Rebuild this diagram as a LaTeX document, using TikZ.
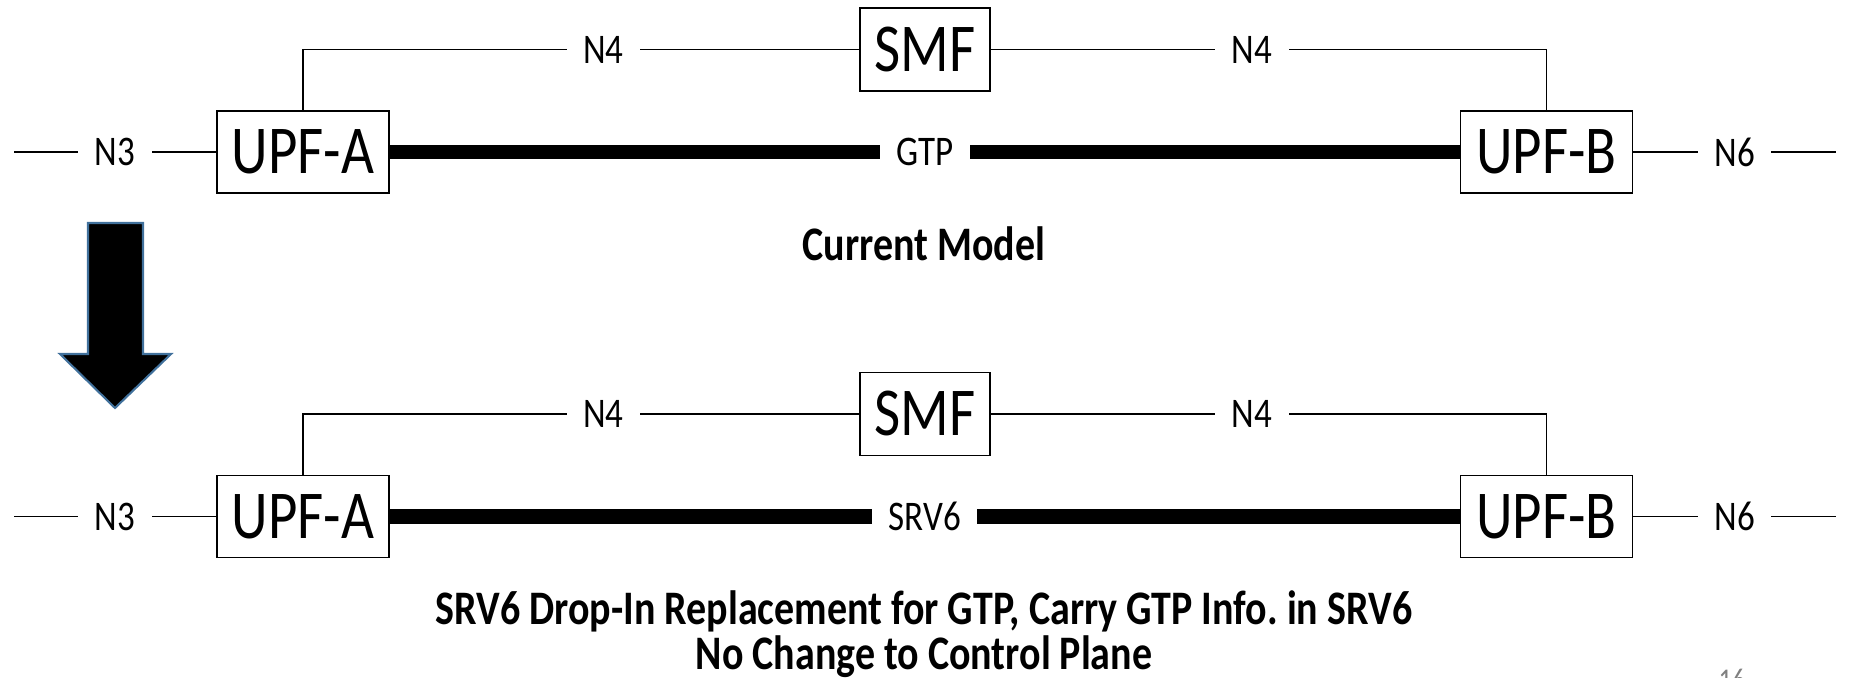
\documentclass[tikz,border=0pt]{standalone}
\usepackage{fontspec}
\setmainfont{Carlito}[FakeStretch=0.83]
\definecolor{arrowedge}{RGB}{65,113,156}
\definecolor{pagenum}{RGB}{128,128,128}

\begin{document}
\begin{tikzpicture}[x=0.1mm, y=0.1mm, line width=0.45pt,
		box/.style={draw, line width=0.5pt, minimum width=17.2mm, minimum height=8.2mm, inner sep=0pt, font=\fontsize{19.5}{22}\selectfont},
		smfbox/.style={box, minimum width=13mm, minimum height=8.3mm},
		lbl/.style={fill=white, inner xsep=4.7pt, inner ysep=1pt, font=\fontsize{12}{14}\selectfont},
		pipe/.style={line width=4pt},
		title/.style={font=\fontsize{13.7}{14}\selectfont\bfseries, anchor=base}]
		\clip (0,0) rectangle (1849,678);
		
		% current model
		\node[box] (upfa1) at (303,526) {UPF-A};
		\node[box] (upfb1) at (1546.5,526) {UPF-B};
		\node[smfbox] (smf1) at (925,628.5) {SMF};
		\coordinate (n3a1) at (14,526);
		\coordinate (n6b1) at (1836,526);
		
		\draw (n3a1) to node[lbl] {N3} (upfa1);
		\draw (upfb1) to node[lbl] {N6} (n6b1);
		\draw (upfa1.north) |- node[lbl, pos=0.77] {N4} (smf1.west);
		\draw (smf1.east) -| node[lbl, pos=0.235] {N4} (upfb1.north);
		\draw[pipe] (upfa1) to node[lbl] {GTP} (upfb1);
		
		\node[title] (cur) at (924,417) {Current Model};
		
		% arrow between the two models
		\filldraw[fill=black, draw=arrowedge, line width=0.6pt] (88,455) -- (143,455) -- (143,324) -- (171,324) -- (115,270) -- (60,324) -- (88,324) -- cycle;
		
		% srv6 model
		\node[box] (upfa2) at (303,161.5) {UPF-A};
		\node[box] (upfb2) at (1546.5,161.5) {UPF-B};
		\node[smfbox] (smf2) at (925,264) {SMF};
		\coordinate (n3a2) at (14,161.5);
		\coordinate (n6b2) at (1836,161.5);
		
		\draw (n3a2) to node[lbl] {N3} (upfa2);
		\draw (upfb2) to node[lbl] {N6} (n6b2);
		\draw (upfa2.north) |- node[lbl, pos=0.77] {N4} (smf2.west);
		\draw (smf2.east) -| node[lbl, pos=0.235] {N4} (upfb2.north);
		\draw[pipe] (upfa2) to node[lbl] {SRV6} (upfb2);
		
		\node[title] (cap1) at (924,53) {SRV6 Drop-In Replacement for GTP, Carry GTP Info.\ in SRV6};
		\node[title] (cap2) at (924,8) {No Change to Control Plane};
		\node[anchor=north, inner sep=0pt, text=pagenum, font=\fontsize{9}{10}\selectfont] (page) at (1732,10) {16};
		
	\end{tikzpicture}
\end{document}
